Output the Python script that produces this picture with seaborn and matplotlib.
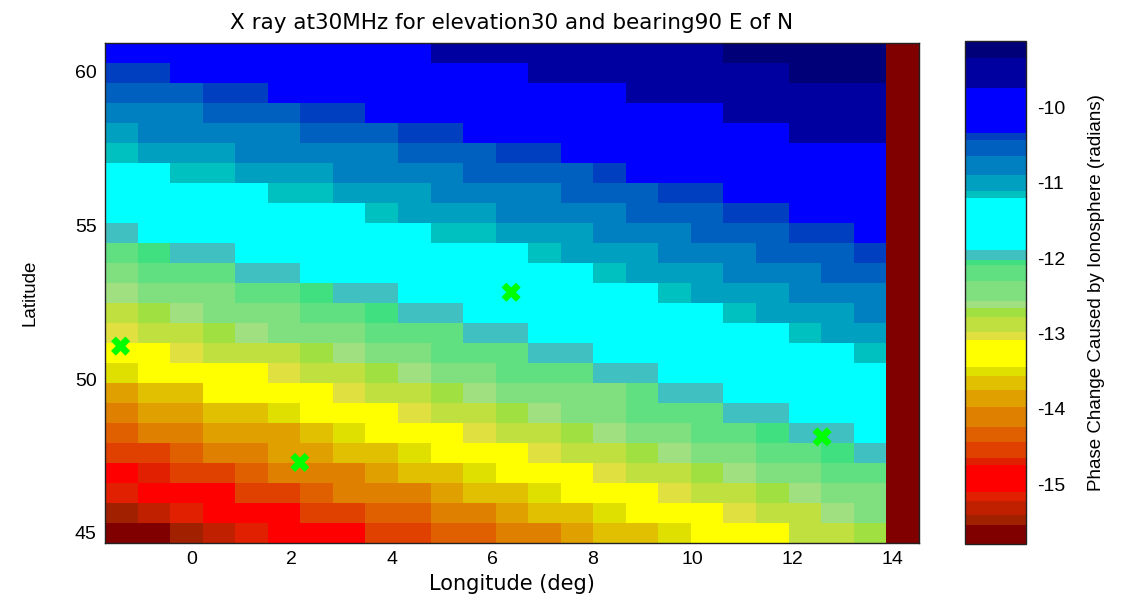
import numpy as np
import matplotlib
matplotlib.use("Agg")
import matplotlib.pyplot as plt
from matplotlib.colors import ListedColormap, BoundaryNorm
import seaborn as sns

# Grid cell edges (degrees); rows of `phase` run from north to south
lon_edges = np.linspace(-1.73, 14.52, 26)
lat_edges = np.linspace(60.92, 44.67, 26)

# Ionospheric phase change (radians) per grid cell, north row first
phase = [
    [-10.03, -10.03, -10.03, -10.03, -10.03, -10.03, -10.03, -10.03, -10.03, -10.03, -9.54, -9.54, -9.54, -9.54, -9.54, -9.54, -9.54, -9.54, -9.54, -9.22, -9.22, -9.22, -9.22, -9.22, -15.67],
    [-10.38, -10.38, -10.03, -10.03, -10.03, -10.03, -10.03, -10.03, -10.03, -10.03, -10.03, -10.03, -10.03, -9.54, -9.54, -9.54, -9.54, -9.54, -9.54, -9.54, -9.54, -9.22, -9.22, -9.22, -15.67],
    [-10.53, -10.53, -10.53, -10.38, -10.38, -10.03, -10.03, -10.03, -10.03, -10.03, -10.03, -10.03, -10.03, -10.03, -10.03, -10.03, -9.54, -9.54, -9.54, -9.54, -9.54, -9.54, -9.54, -9.54, -15.67],
    [-10.77, -10.77, -10.77, -10.53, -10.53, -10.53, -10.38, -10.38, -10.03, -10.03, -10.03, -10.03, -10.03, -10.03, -10.03, -10.03, -10.03, -10.03, -10.03, -9.54, -9.54, -9.54, -9.54, -9.54, -15.67],
    [-11.00, -10.77, -10.77, -10.77, -10.77, -10.77, -10.53, -10.53, -10.53, -10.38, -10.38, -10.03, -10.03, -10.03, -10.03, -10.03, -10.03, -10.03, -10.03, -10.03, -10.03, -9.54, -9.54, -9.54, -15.67],
    [-11.15, -11.00, -11.00, -11.00, -10.77, -10.77, -10.77, -10.77, -10.77, -10.53, -10.53, -10.53, -10.38, -10.38, -10.03, -10.03, -10.03, -10.03, -10.03, -10.03, -10.03, -10.03, -10.03, -10.03, -15.67],
    [-11.55, -11.55, -11.15, -11.15, -11.00, -11.00, -11.00, -10.77, -10.77, -10.77, -10.77, -10.53, -10.53, -10.53, -10.53, -10.38, -10.03, -10.03, -10.03, -10.03, -10.03, -10.03, -10.03, -10.03, -15.67],
    [-11.55, -11.55, -11.55, -11.55, -11.55, -11.15, -11.15, -11.00, -11.00, -11.00, -10.77, -10.77, -10.77, -10.77, -10.53, -10.53, -10.53, -10.38, -10.38, -10.03, -10.03, -10.03, -10.03, -10.03, -15.67],
    [-11.55, -11.55, -11.55, -11.55, -11.55, -11.55, -11.55, -11.55, -11.15, -11.00, -11.00, -11.00, -10.77, -10.77, -10.77, -10.77, -10.53, -10.53, -10.53, -10.38, -10.38, -10.03, -10.03, -10.03, -15.67],
    [-11.96, -11.55, -11.55, -11.55, -11.55, -11.55, -11.55, -11.55, -11.55, -11.55, -11.15, -11.15, -11.00, -11.00, -11.00, -10.77, -10.77, -10.77, -10.53, -10.53, -10.53, -10.38, -10.38, -10.03, -15.67],
    [-12.20, -12.06, -11.96, -11.96, -11.55, -11.55, -11.55, -11.55, -11.55, -11.55, -11.55, -11.55, -11.55, -11.15, -11.00, -11.00, -11.00, -10.77, -10.77, -10.77, -10.53, -10.53, -10.53, -10.38, -15.67],
    [-12.43, -12.20, -12.20, -12.20, -11.96, -11.96, -11.55, -11.55, -11.55, -11.55, -11.55, -11.55, -11.55, -11.55, -11.55, -11.15, -11.00, -11.00, -11.00, -10.77, -10.77, -10.77, -10.53, -10.53, -15.67],
    [-12.62, -12.43, -12.43, -12.43, -12.20, -12.20, -12.06, -11.96, -11.96, -11.55, -11.55, -11.55, -11.55, -11.55, -11.55, -11.55, -11.55, -11.15, -11.00, -11.00, -11.00, -10.77, -10.77, -10.77, -15.67],
    [-12.88, -12.72, -12.62, -12.43, -12.43, -12.43, -12.20, -12.20, -12.06, -11.96, -11.96, -11.55, -11.55, -11.55, -11.55, -11.55, -11.55, -11.55, -11.55, -11.15, -11.00, -11.00, -11.00, -10.77, -15.67],
    [-13.03, -12.88, -12.88, -12.72, -12.62, -12.43, -12.43, -12.43, -12.20, -12.20, -12.20, -11.96, -11.96, -11.55, -11.55, -11.55, -11.55, -11.55, -11.55, -11.55, -11.55, -11.15, -11.00, -11.00, -15.67],
    [-13.26, -13.26, -13.03, -12.88, -12.88, -12.88, -12.72, -12.62, -12.43, -12.43, -12.20, -12.20, -12.20, -11.96, -11.96, -11.55, -11.55, -11.55, -11.55, -11.55, -11.55, -11.55, -11.55, -11.15, -15.67],
    [-13.50, -13.26, -13.26, -13.26, -13.26, -13.03, -12.88, -12.88, -12.72, -12.62, -12.43, -12.43, -12.20, -12.20, -12.20, -11.96, -11.96, -11.55, -11.55, -11.55, -11.55, -11.55, -11.55, -11.55, -15.67],
    [-13.86, -13.65, -13.65, -13.26, -13.26, -13.26, -13.26, -13.03, -12.88, -12.88, -12.72, -12.62, -12.43, -12.43, -12.43, -12.43, -12.20, -11.96, -11.96, -11.55, -11.55, -11.55, -11.55, -11.55, -15.67],
    [-14.10, -13.86, -13.86, -13.65, -13.65, -13.50, -13.26, -13.26, -13.26, -13.03, -12.88, -12.88, -12.72, -12.62, -12.43, -12.43, -12.20, -12.20, -12.20, -11.96, -11.96, -11.55, -11.55, -11.55, -15.67],
    [-14.34, -14.10, -14.10, -13.86, -13.86, -13.86, -13.65, -13.50, -13.26, -13.26, -13.26, -13.03, -12.88, -12.88, -12.72, -12.62, -12.43, -12.43, -12.20, -12.20, -12.06, -11.96, -11.96, -11.55, -15.67],
    [-14.54, -14.54, -14.34, -14.10, -14.10, -13.86, -13.86, -13.65, -13.65, -13.50, -13.26, -13.26, -13.26, -13.03, -12.88, -12.88, -12.72, -12.62, -12.43, -12.43, -12.20, -12.20, -12.06, -11.96, -15.67],
    [-14.92, -14.70, -14.54, -14.54, -14.34, -14.10, -14.10, -14.10, -13.86, -13.65, -13.65, -13.50, -13.26, -13.26, -13.26, -13.03, -12.88, -12.88, -12.72, -12.62, -12.43, -12.43, -12.20, -12.20, -15.67],
    [-15.17, -14.92, -14.92, -14.92, -14.54, -14.54, -14.34, -14.10, -14.10, -14.10, -13.86, -13.65, -13.65, -13.50, -13.26, -13.26, -13.26, -13.03, -12.88, -12.88, -12.72, -12.62, -12.43, -12.43, -15.67],
    [-15.48, -15.32, -15.17, -14.92, -14.92, -14.92, -14.54, -14.54, -14.34, -14.34, -14.10, -14.10, -13.86, -13.65, -13.65, -13.50, -13.26, -13.26, -13.26, -13.03, -12.88, -12.88, -12.62, -12.43, -15.67],
    [-15.67, -15.67, -15.48, -15.32, -15.17, -14.92, -14.92, -14.92, -14.54, -14.54, -14.34, -14.34, -14.10, -14.10, -13.86, -13.65, -13.65, -13.50, -13.26, -13.26, -13.26, -12.88, -12.88, -12.72, -15.67],
]

# Receiver sites marked on the map
site_lon = [-1.42, 2.16, 6.38, 12.59]
site_lat = [51.07, 47.29, 52.82, 48.12]

# Stepped colour scale: band edges (radians, ascending) and band colours
level_edges = [-15.80, -15.54, -15.41, -15.23, -15.10, -14.75, -14.65, -14.44,
               -14.24, -13.97, -13.75, -13.56, -13.44, -13.09, -12.98, -12.78,
               -12.66, -12.57, -12.30, -12.09, -12.02, -11.89, -11.20, -11.11,
               -10.89, -10.64, -10.43, -10.33, -9.74, -9.34, -9.11]
level_colors = ["#800000", "#a02000", "#c02000", "#e02000", "#ff0000", "#e02000",
                "#e04000", "#e06000", "#e08000", "#e0a000", "#e0c000", "#e0e000",
                "#ffff00", "#e0e040", "#c0e040", "#a0e040", "#a0e080", "#80e080",
                "#60e080", "#40e080", "#40c0c0", "#00ffff", "#00c0c0", "#00a0c0",
                "#0080c0", "#0060c0", "#0040c0", "#0000ff", "#0000a0", "#000078"]
cbar_ticks = [-15, -14, -13, -12, -11, -10]

sns.set_theme(style="white")
plt.rcParams["font.family"] = ["Liberation Sans", "DejaVu Sans"]
plt.rcParams["axes.unicode_minus"] = False
for key in ("text.color", "axes.labelcolor", "xtick.color", "ytick.color"):
    plt.rcParams[key] = "black"
wide = ["DejaVu Sans"]

cmap = ListedColormap(level_colors)
norm = BoundaryNorm(level_edges, cmap.N)

fig = plt.figure(figsize=(11.32, 5.96), dpi=100)
ax = fig.add_axes([0.0928, 0.0889, 0.7188, 0.8389])
cax = fig.add_axes([0.8525, 0.0867, 0.0539, 0.8450])

mesh = ax.pcolormesh(lon_edges, lat_edges, np.array(phase), cmap=cmap, norm=norm,
                     shading="flat", edgecolors="none")
sns.scatterplot(x=site_lon, y=site_lat, marker="X", s=190, color="#00ff00",
                edgecolor="none", linewidth=0, ax=ax, zorder=3, legend=False)

ax.set_xlim(lon_edges[0], lon_edges[-1])
ax.set_ylim(lat_edges[-1], lat_edges[0])
ax.set_xticks(range(0, 15, 2))
ax.set_yticks([45, 50, 55, 60])
ax.tick_params(direction="in", length=5, width=1, colors="black",
               bottom=True, left=True, top=True, right=True, labelsize=14, pad=6)
for s in ax.spines.values():
    s.set_color("#222222")
    s.set_linewidth(1.0)

ax.set_title("X ray at30MHz for elevation30 and bearing90 E of N",
             fontsize=15.5, family=wide, pad=10)
ax.set_xlabel("Longitude (deg)", fontsize=15, family=wide, labelpad=4)
ax.set_ylabel("Latitude", fontsize=13.5, labelpad=26)

cb = fig.colorbar(mesh, cax=cax, spacing="proportional", ticks=cbar_ticks)
cb.minorticks_off()
cb.outline.set_edgecolor("#222222")
cb.outline.set_linewidth(1.0)
cb.ax.yaxis.set_tick_params(which="major", direction="in", length=8, width=1,
                            left=True, right=True, labelsize=14, pad=8,
                            color="black")
cb.set_label("Phase Change Caused by Ionosphere (radians)", fontsize=13.5, labelpad=16)

fig.savefig("out.png", dpi=100, facecolor="white")
